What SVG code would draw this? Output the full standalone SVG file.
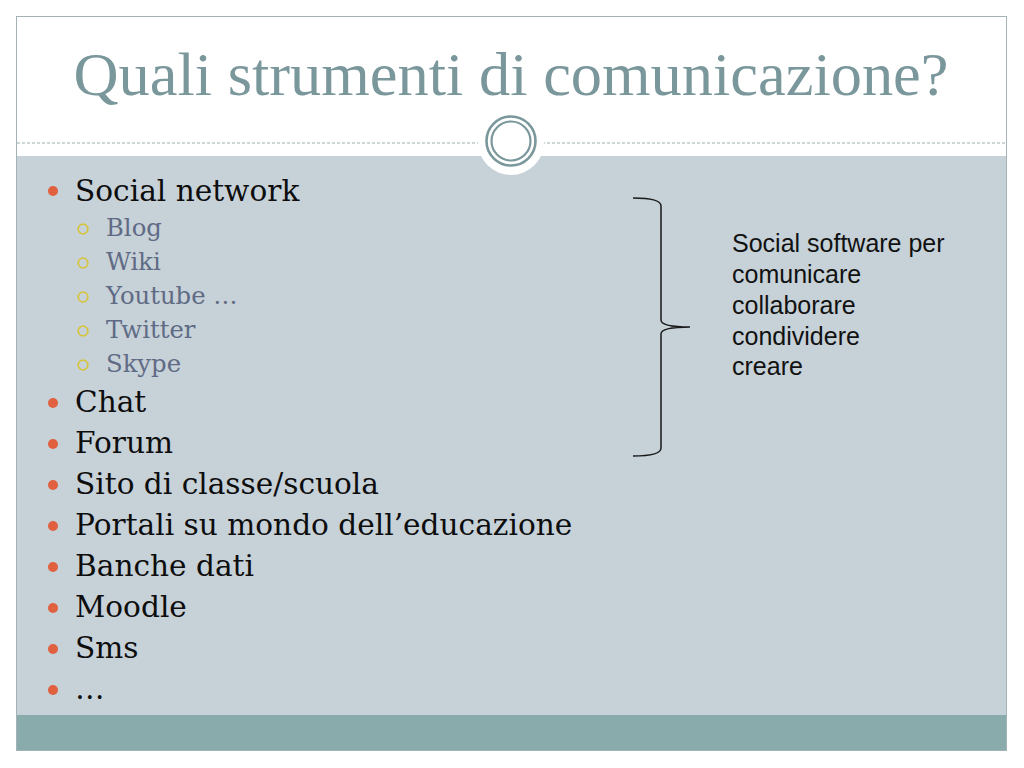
<svg xmlns="http://www.w3.org/2000/svg" width="1024" height="768" viewBox="0 0 1024 768">
<style>
.title{font-family:"Liberation Serif","DejaVu Serif",serif;font-size:62px;fill:#7a979b}
.main{font-family:"DejaVu Serif","Liberation Serif",serif;font-size:29.6px;fill:#0d0d0d}
.sub{font-family:"DejaVu Serif","Liberation Serif",serif;font-size:24.3px;fill:#5f6b85}
.side{font-family:"Liberation Sans",Arial,sans-serif;font-size:25px;fill:#111}
.b1{fill:#e0603f}
.b2{fill:none;stroke:#d6c440;stroke-width:1.8}
</style>
<rect x="0" y="0" width="1024" height="768" fill="#ffffff"/>
<g id="frame">
<rect x="17" y="17" width="989" height="139" fill="#ffffff"/>
<rect x="17" y="156" width="989" height="559" fill="#c7d1d8"/>
<rect x="17" y="715" width="989" height="35" fill="#8aabab"/>
<rect x="16.5" y="16.5" width="990" height="734" fill="none" stroke="#a3b3b5" stroke-width="1"/>
<line x1="17" y1="143" x2="1006" y2="143" stroke="#9aaeb0" stroke-width="1" stroke-dasharray="3,2"/>
<circle cx="511" cy="142" r="33" fill="#ffffff"/>
<circle cx="511" cy="141" r="24.5" fill="none" stroke="#7a979b" stroke-width="2.6"/>
<circle cx="511" cy="141" r="19.5" fill="none" stroke="#7a979b" stroke-width="2.2"/>
</g>
<text id="title" class="title" x="511" y="95" text-anchor="middle" textLength="875" lengthAdjust="spacingAndGlyphs">Quali strumenti di comunicazione?</text>
<g id="list">
<circle class="b1" cx="53" cy="191" r="5"/><text class="main" x="75" y="201">Social network</text>
<circle class="b2" cx="83" cy="229" r="4.8"/><text class="sub" x="106" y="236">Blog</text>
<circle class="b2" cx="83" cy="263" r="4.8"/><text class="sub" x="106" y="270">Wiki</text>
<circle class="b2" cx="83" cy="297" r="4.8"/><text class="sub" x="106" y="304">Youtube …</text>
<circle class="b2" cx="83" cy="331" r="4.8"/><text class="sub" x="106" y="338">Twitter</text>
<circle class="b2" cx="83" cy="365" r="4.8"/><text class="sub" x="106" y="372">Skype</text>
<circle class="b1" cx="53" cy="403" r="5"/><text class="main" x="75" y="412">Chat</text>
<circle class="b1" cx="53" cy="444" r="5"/><text class="main" x="75" y="453">Forum</text>
<circle class="b1" cx="53" cy="485" r="5"/><text class="main" x="75" y="494">Sito di classe/scuola</text>
<circle class="b1" cx="53" cy="526" r="5"/><text class="main" x="75" y="535">Portali su mondo dell’educazione</text>
<circle class="b1" cx="53" cy="567" r="5"/><text class="main" x="75" y="576">Banche dati</text>
<circle class="b1" cx="53" cy="608" r="5"/><text class="main" x="75" y="617">Moodle</text>
<circle class="b1" cx="53" cy="649" r="5"/><text class="main" x="75" y="658">Sms</text>
<circle class="b1" cx="53" cy="690" r="5"/><text class="main" x="75" y="699">…</text>
</g>
<g id="connectors">
<path d="M633,198 Q661,198 661,206 L661,320 Q661,327 690,327 Q661,327 661,334 L661,448 Q661,456 633,456" fill="none" stroke="#1a1a1a" stroke-width="1.5"/>
</g>
<g id="side-note">
<text class="side" x="732" y="252">Social software per</text>
<text class="side" x="732" y="283">comunicare</text>
<text class="side" x="732" y="314">collaborare</text>
<text class="side" x="732" y="345">condividere</text>
<text class="side" x="732" y="375">creare</text>
</g>
</svg>
